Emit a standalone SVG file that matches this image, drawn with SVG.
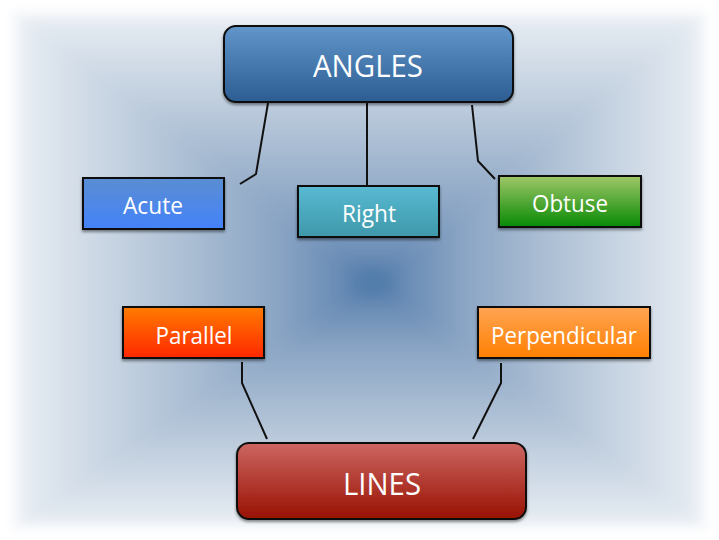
<svg xmlns="http://www.w3.org/2000/svg" width="719" height="540" viewBox="0 0 719 540">
  <defs>
    <style>
      .box { stroke: #111; stroke-width: 2; filter: url(#shadow); }
      .lbl { fill: #fff; font-family: "Open Sans", "Noto Sans", sans-serif; text-anchor: middle; }
      .big { font-size: 31px; }
      .small { font-size: 24px; }
      .conn { fill: none; stroke: #111; stroke-width: 2; stroke-linejoin: miter; }
    </style>
    <filter id="shadow" x="-10%" y="-20%" width="120%" height="150%">
      <feDropShadow dx="0" dy="2" stdDeviation="1.5" flood-color="#000" flood-opacity="0.45"/>
    </filter>
    <filter id="soft" x="-5%" y="-5%" width="110%" height="110%">
      <feGaussianBlur stdDeviation="4"/>
    </filter>

    <!-- shared colour ramp for the rectangular background gradient -->
    <linearGradient id="ramp">
      <stop offset="0" stop-color="#ffffff"/>
      <stop offset="0.06" stop-color="#e4eaf1"/>
      <stop offset="0.22" stop-color="#cfdae6"/>
      <stop offset="0.5" stop-color="#aabdd3"/>
      <stop offset="0.75" stop-color="#88a3c3"/>
      <stop offset="0.9" stop-color="#6b8db6"/>
      <stop offset="1" stop-color="#4875a6"/>
    </linearGradient>
    <linearGradient id="bgTop" href="#ramp" gradientUnits="userSpaceOnUse" x1="0" y1="8" x2="0" y2="283"/>
    <linearGradient id="bgBottom" href="#ramp" gradientUnits="userSpaceOnUse" x1="0" y1="532" x2="0" y2="283"/>
    <linearGradient id="bgLeft" href="#ramp" gradientUnits="userSpaceOnUse" x1="8" y1="0" x2="374" y2="0"/>
    <linearGradient id="bgRight" href="#ramp" gradientUnits="userSpaceOnUse" x1="711" y1="0" x2="374" y2="0"/>

    <!-- node fills -->
    <linearGradient id="gAngles" x1="0" y1="0" x2="0" y2="1">
      <stop offset="0" stop-color="#6196ca"/>
      <stop offset="1" stop-color="#2c5d92"/>
    </linearGradient>
    <linearGradient id="gAcute" x1="0" y1="0" x2="0" y2="1">
      <stop offset="0" stop-color="#5a8ed2"/>
      <stop offset="1" stop-color="#4482fa"/>
    </linearGradient>
    <linearGradient id="gRight" x1="0" y1="0" x2="0" y2="1">
      <stop offset="0" stop-color="#59bad2"/>
      <stop offset="1" stop-color="#3e98aa"/>
    </linearGradient>
    <linearGradient id="gObtuse" x1="0" y1="0" x2="0" y2="1">
      <stop offset="0" stop-color="#a0c768"/>
      <stop offset="1" stop-color="#078a04"/>
    </linearGradient>
    <linearGradient id="gParallel" x1="0" y1="0" x2="0" y2="1">
      <stop offset="0" stop-color="#ff7c00"/>
      <stop offset="1" stop-color="#ff2700"/>
    </linearGradient>
    <linearGradient id="gPerp" x1="0" y1="0" x2="0" y2="1">
      <stop offset="0" stop-color="#ffa454"/>
      <stop offset="1" stop-color="#ff8000"/>
    </linearGradient>
    <linearGradient id="gLines" x1="0" y1="0" x2="0" y2="1">
      <stop offset="0" stop-color="#cd6662"/>
      <stop offset="1" stop-color="#981102"/>
    </linearGradient>
  </defs>

  <!-- background -->
  <rect x="0" y="0" width="719" height="540" fill="#ffffff"/>
  <g id="background" filter="url(#soft)">
    <polygon points="0,0 719,0 374,283" fill="url(#bgTop)"/>
    <polygon points="0,540 719,540 374,283" fill="url(#bgBottom)"/>
    <polygon points="0,0 0,540 374,283" fill="url(#bgLeft)"/>
    <polygon points="719,0 719,540 374,283" fill="url(#bgRight)"/>
  </g>

  <!-- connectors -->
  <g id="connectors">
    <polyline class="conn" points="268,103 256,174 240,184"/>
    <polyline class="conn" points="367,102 367,187"/>
    <polyline class="conn" points="472,105 478,161 495,179"/>
    <polyline class="conn" points="242,362 242,383 267,439"/>
    <polyline class="conn" points="501,363 501,383 473,439"/>
  </g>

  <!-- nodes -->
  <g id="angles">
    <rect class="box" x="224" y="26" width="289" height="76" rx="12" fill="url(#gAngles)"/>
    <text class="lbl big" x="368" y="77" textLength="110" lengthAdjust="spacingAndGlyphs">ANGLES</text>
  </g>
  <g id="acute">
    <rect class="box" x="83" y="178" width="141" height="51" fill="url(#gAcute)"/>
    <text class="lbl small" x="153" y="214" textLength="60" lengthAdjust="spacingAndGlyphs">Acute</text>
  </g>
  <g id="right">
    <rect class="box" x="298" y="186" width="141" height="51" fill="url(#gRight)"/>
    <text class="lbl small" x="369" y="222" textLength="54" lengthAdjust="spacingAndGlyphs">Right</text>
  </g>
  <g id="obtuse">
    <rect class="box" x="499" y="176" width="142" height="51" fill="url(#gObtuse)"/>
    <text class="lbl small" x="570" y="212" textLength="76" lengthAdjust="spacingAndGlyphs">Obtuse</text>
  </g>
  <g id="parallel">
    <rect class="box" x="123" y="307" width="141" height="51" fill="url(#gParallel)"/>
    <text class="lbl small" x="194" y="344" textLength="77" lengthAdjust="spacingAndGlyphs">Parallel</text>
  </g>
  <g id="perpendicular">
    <rect class="box" x="478" y="307" width="172" height="51" fill="url(#gPerp)"/>
    <text class="lbl small" x="564" y="344" textLength="146" lengthAdjust="spacingAndGlyphs">Perpendicular</text>
  </g>
  <g id="lines">
    <rect class="box" x="237" y="443" width="289" height="76" rx="12" fill="url(#gLines)"/>
    <text class="lbl big" x="382" y="495" textLength="78" lengthAdjust="spacingAndGlyphs">LINES</text>
  </g>
</svg>
